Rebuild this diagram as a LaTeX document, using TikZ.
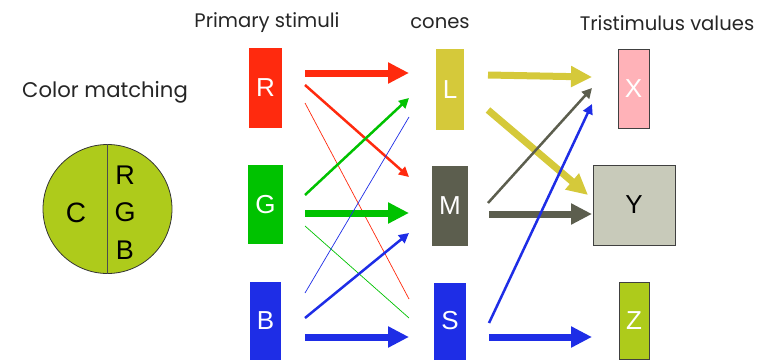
\documentclass[tikz,border=0pt]{standalone}
\usepackage{fontspec}
\setmainfont{Poppins}
\newfontfamily\boxfont{Liberation Sans}
\usepackage{tikz}
\usetikzlibrary{arrows.meta, calc}
\usepackage{xcolor}

\definecolor{stimred}{HTML}{FF2A0E}
\definecolor{stimgreen}{HTML}{00C200}
\definecolor{stimblue}{HTML}{1E2DE6}
\definecolor{coneyellow}{HTML}{D5C93A}
\definecolor{conegray}{HTML}{5C5E4E}
\definecolor{tripink}{HTML}{FFB2B8}
\definecolor{trigray}{HTML}{C8CABA}
\definecolor{trigreen}{HTML}{AECB1B}

\begin{document}
\begin{tikzpicture}[
  x=1pt, y=-1pt,
  heading/.style={font=\fontsize{19.6}{22}\selectfont, text=black!85},
  colbox/.style={rectangle, inner sep=0pt, outer sep=0pt, font=\boxfont\fontsize{26}{28}\selectfont, text=white},
  outlined/.style={colbox, draw=black!75, line width=0.8pt},
  bigarrow/.style={-{Triangle[length=21pt, width=20pt]}, line width=7pt},
  midarrow/.style={-{Triangle[length=10pt, width=10pt]}, line width=2.5pt},
  thinline/.style={line width=0.7pt}
]
  \useasboundingbox (0,0) rectangle (771,359);

  % Headings
  \node[heading, font=\fontsize{21.2}{24}\selectfont] (hmatch) at (105,92) {Color matching};
  \node[heading] (hprim) at (267,23) {Primary stimuli};
  \node[heading] (hcones) at (440,23) {cones};
  \node[heading] (htri) at (667,23) {Tristimulus values};

  % Color matching disc
  \node[circle, draw=black!80, line width=0.8pt, fill=trigreen, minimum size=129pt, inner sep=0pt] (match) at (107.5,209) {};
  \draw[black!70, line width=0.8pt] (match.north) -- (match.south);
  \node[font=\boxfont\fontsize{28}{30}\selectfont] (ctest) at (76,213) {C};
  \node[font=\boxfont\fontsize{27}{37.5}\selectfont, align=center] (crgb) at (125,212.5) {R\\G\\B};

  % Primary stimuli
  \node[colbox, fill=stimred, minimum width=33pt, minimum height=80pt] (R) at (265.5,88) {R};
  \node[colbox, fill=stimgreen, minimum width=35pt, minimum height=79pt] (G) at (265.5,204.5) {G};
  \node[colbox, fill=stimblue, minimum width=31pt, minimum height=78pt] (B) at (265.5,321) {B};

  % Cones
  \node[colbox, fill=coneyellow, minimum width=28pt, minimum height=81pt] (L) at (450,89.5) {L};
  \node[colbox, fill=conegray, minimum width=36pt, minimum height=80pt] (M) at (450,206) {M};
  \node[colbox, fill=stimblue, minimum width=32pt, minimum height=77pt] (S) at (450,321) {S};

  % Tristimulus values
  \node[outlined, fill=tripink, minimum width=31pt, minimum height=79pt] (X) at (633.5,88.5) {X};
  \node[outlined, fill=trigray, text=black, minimum width=82pt, minimum height=80pt] (Y) at (634,205) {Y};
  \node[outlined, fill=trigreen, minimum width=30pt, minimum height=77pt] (Z) at (634,320.5) {Z};

  % Stimuli to cones
  \draw[bigarrow, stimred] ($(R.east)+(23,-15)$) -- ($(L.west)+(-27,-16.5)$);
  \draw[midarrow, stimred] ($(R.east)+(23,-3)$) -- ($(M.west)+(-23,-29)$);
  \draw[thinline, stimred] ($(R.east)+(23,15)$) -- ($(S.west)+(-25,-22)$);
  \draw[midarrow, stimgreen] ($(G.east)+(22,-9.5)$) -- ($(L.west)+(-27,8.5)$);
  \draw[bigarrow, stimgreen] ($(G.east)+(22,8.5)$) -- ($(M.west)+(-23,7)$);
  \draw[thinline, stimgreen] ($(G.east)+(22,21.5)$) -- ($(S.west)+(-25,-3)$);
  \draw[thinline, stimblue] ($(B.east)+(24,-28)$) -- ($(L.west)+(-27,27.5)$);
  \draw[midarrow, stimblue] ($(B.east)+(24,-3)$) -- ($(M.west)+(-23,27)$);
  \draw[bigarrow, stimblue] ($(B.east)+(24,16)$) -- ($(S.west)+(-25,16)$);

  % Cones to tristimulus values
  \draw[bigarrow, coneyellow] ($(L.east)+(24,-14.5)$) -- ($(X.west)+(-26,-11.5)$);
  \draw[bigarrow, coneyellow] ($(L.east)+(24,20.5)$) -- ($(Y.west)+(-5,-10)$);
  \draw[midarrow, conegray] ($(M.east)+(20,-3)$) -- ($(X.west)+(-26,-0.5)$);
  \draw[bigarrow, conegray] ($(M.east)+(21,8)$) -- ($(Y.west)+(-1,9)$);
  \draw[midarrow, stimblue] ($(S.east)+(23,2)$) -- ($(X.west)+(-26,15.5)$);
  \draw[bigarrow, stimblue] ($(S.east)+(23,16)$) -- ($(Z.west)+(-27,16.5)$);
\end{tikzpicture}
\end{document}
